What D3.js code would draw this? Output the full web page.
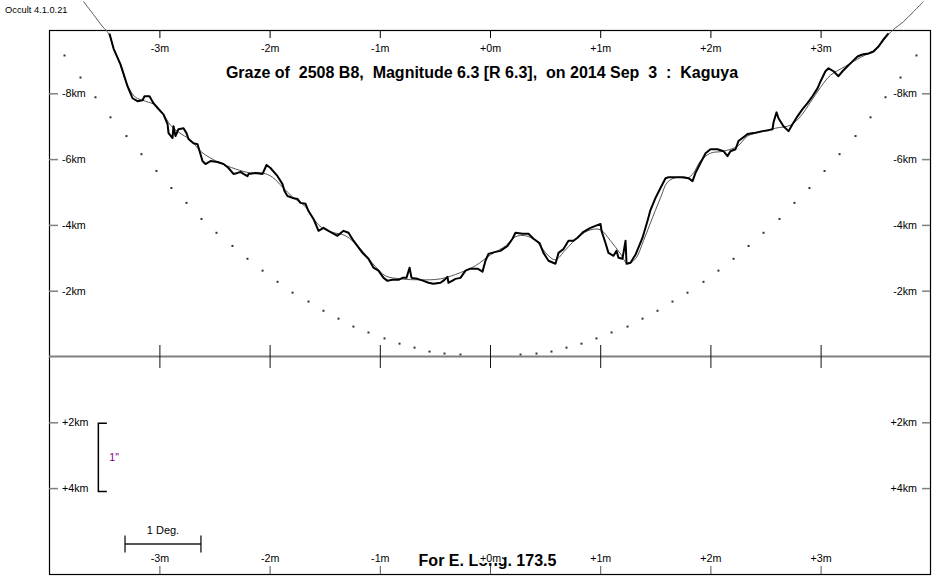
<!DOCTYPE html>
<html>
<head>
<meta charset="utf-8">
<script src="https://cdn.jsdelivr.net/npm/d3@7"></script>
<style>
    body { margin: 0; background: #fff; }
    svg text { font-family: "Liberation Sans", Arial, sans-serif; }
    .axis path.domain { display: none; }
</style>
</head>
<body>
<div id="chart"></div>
<script>
'use strict';

const titleText = "Graze of  2508 B8,  Magnitude 6.3 [R 6.3],  on 2014 Sep  3  :  Kaguya";
const versionText = "Occult 4.1.0.21";
const longitudeText = "For E. Long. 173.5";

// minutes of time along the graze, km across it
const minuteTicks = [-3, -2, -1, 0, 1, 2, 3];
const minuteLabels = ["-3m", "-2m", "-1m", "+0m", "+1m", "+2m", "+3m"];
const kmTicksTop = [-8, -6, -4, -2];
const kmLabelsTop = ["-8km", "-6km", "-4km", "-2km"];
const kmTicksBottom = [2, 4];
const kmLabelsBottom = ["+2km", "+4km"];

// Kaguya limb profile (heavy line)
const profileX = [-3.453, -3.416, -3.353, -3.289, -3.244, -3.199, -3.153, -3.135, -3.090, -3.054,
    -3.008, -2.963, -2.926, -2.917, -2.881, -2.872, -2.854, -2.827, -2.781, -2.754,
    -2.736, -2.691, -2.654, -2.627, -2.609, -2.582, -2.536, -2.473, -2.418, -2.373,
    -2.328, -2.291, -2.264, -2.237, -2.201, -2.191, -2.128, -2.064, -2.028, -1.992,
    -1.928, -1.883, -1.865, -1.838, -1.792, -1.747, -1.720, -1.674, -1.647, -1.602,
    -1.556, -1.511, -1.466, -1.384, -1.329, -1.284, -1.239, -1.157, -1.103, -1.057,
    -1.012, -0.966, -0.930, -0.885, -0.830, -0.794, -0.758, -0.730, -0.712, -0.658,
    -0.603, -0.558, -0.513, -0.449, -0.413, -0.386, -0.377, -0.313, -0.268, -0.222,
    -0.177, -0.113, -0.068, -0.041, -0.014, 0.050, 0.095, 0.159, 0.204, 0.231,
    0.295, 0.349, 0.395, 0.449, 0.485, 0.531, 0.594, 0.622, 0.667, 0.712,
    0.758, 0.794, 0.848, 0.912, 0.957, 1.003, 1.012, 1.048, 1.075, 1.121,
    1.148, 1.166, 1.202, 1.230, 1.239, 1.275, 1.320, 1.384, 1.429, 1.456,
    1.502, 1.547, 1.593, 1.620, 1.701, 1.756, 1.801, 1.838, 1.865, 1.910,
    1.956, 2.001, 2.064, 2.119, 2.155, 2.182, 2.228, 2.255, 2.291, 2.337,
    2.391, 2.473, 2.527, 2.564, 2.573, 2.600, 2.618, 2.663, 2.709, 2.745,
    2.790, 2.836, 2.881, 2.926, 2.972, 2.999, 3.044, 3.072, 3.117, 3.162,
    3.199, 3.244, 3.289, 3.335, 3.380, 3.435, 3.480, 3.525, 3.571, 3.616];
const profileY = [-9.82, -9.36, -8.88, -8.21, -7.85, -7.76, -7.79, -7.91, -7.91, -7.70,
    -7.52, -7.36, -7.06, -6.79, -6.64, -7.00, -6.70, -6.91, -6.94, -6.79,
    -6.61, -6.48, -6.45, -6.15, -5.94, -5.85, -5.94, -5.91, -5.85, -5.73,
    -5.55, -5.58, -5.61, -5.55, -5.48, -5.55, -5.58, -5.55, -5.82, -5.73,
    -5.48, -5.24, -5.03, -4.88, -4.82, -4.79, -4.67, -4.64, -4.42, -4.18,
    -3.82, -3.91, -3.82, -3.67, -3.82, -3.76, -3.52, -3.15, -2.97, -2.70,
    -2.61, -2.39, -2.30, -2.33, -2.33, -2.39, -2.39, -2.70, -2.39, -2.36,
    -2.30, -2.24, -2.21, -2.24, -2.33, -2.42, -2.24, -2.36, -2.39, -2.61,
    -2.67, -2.67, -2.58, -2.91, -3.12, -3.18, -3.21, -3.36, -3.58, -3.76,
    -3.73, -3.73, -3.58, -3.45, -3.15, -2.91, -2.82, -3.15, -3.27, -3.52,
    -3.52, -3.61, -3.79, -3.91, -3.97, -4.03, -3.82, -3.45, -3.15, -3.06,
    -3.21, -3.00, -2.97, -3.52, -2.82, -2.85, -3.09, -3.61, -4.12, -4.45,
    -4.82, -5.12, -5.42, -5.45, -5.45, -5.45, -5.42, -5.33, -5.58, -5.88,
    -6.18, -6.30, -6.30, -6.24, -6.09, -6.24, -6.30, -6.55, -6.64, -6.76,
    -6.79, -6.85, -6.88, -6.91, -7.12, -7.42, -7.24, -7.00, -6.85, -7.06,
    -7.30, -7.52, -7.70, -7.91, -8.15, -8.36, -8.67, -8.76, -8.67, -8.52,
    -8.67, -8.82, -8.97, -9.12, -9.18, -9.21, -9.27, -9.42, -9.64, -9.82];

// smoothed profile (thin line)
const smoothX = [-3.689, -3.598, -3.516, -3.462, -3.416, -3.353, -3.289, -3.217, -3.126, -3.035,
    -2.963, -2.899, -2.827, -2.718, -2.627, -2.536, -2.446, -2.309, -2.173, -2.064,
    -1.974, -1.883, -1.792, -1.674, -1.556, -1.447, -1.311, -1.175, -1.039, -0.948,
    -0.812, -0.631, -0.449, -0.268, -0.132, 0.005, 0.141, 0.231, 0.322, 0.413,
    0.531, 0.594, 0.685, 0.803, 0.912, 1.003, 1.093, 1.184, 1.248, 1.320,
    1.393, 1.456, 1.547, 1.611, 1.701, 1.792, 1.847, 1.910, 2.001, 2.119,
    2.246, 2.337, 2.455, 2.591, 2.727, 2.818, 2.908, 2.999, 3.090, 3.226,
    3.362, 3.498, 3.616, 3.662, 3.752, 3.843, 3.934];
const smoothY = [-10.79, -10.39, -10.03, -9.82, -9.36, -8.85, -8.24, -7.88, -7.76, -7.64,
    -7.36, -7.03, -6.82, -6.58, -6.24, -6.03, -5.88, -5.70, -5.58, -5.58,
    -5.45, -5.15, -4.85, -4.55, -4.00, -3.79, -3.67, -3.27, -2.73, -2.45,
    -2.36, -2.33, -2.36, -2.55, -2.76, -3.09, -3.36, -3.64, -3.67, -3.52,
    -3.06, -2.94, -3.24, -3.64, -3.85, -3.85, -3.52, -3.12, -2.82, -2.97,
    -3.52, -4.06, -4.82, -5.30, -5.45, -5.42, -5.58, -5.94, -6.18, -6.24,
    -6.39, -6.70, -6.82, -6.94, -7.03, -7.30, -7.73, -8.18, -8.55, -8.82,
    -9.09, -9.33, -9.79, -9.94, -10.18, -10.48, -10.79];

// dotted mean-limb curve
const limbDotX = [-3.861, -3.716, -3.580, -3.444, -3.299, -3.163, -3.027, -2.891, -2.754, -2.618,
    -2.482, -2.337, -2.201, -2.064, -1.928, -1.792, -1.647, -1.511, -1.375, -1.239,
    -1.103, -0.957, -0.821, -0.685, -0.549, -0.413, -0.268,
    0.277, 0.422, 0.558, 0.694, 0.830, 0.966, 1.103, 1.248, 1.384, 1.520,
    1.656, 1.792, 1.937, 2.073, 2.210, 2.346, 2.482, 2.627, 2.763, 2.899,
    3.036, 3.172, 3.317, 3.453, 3.589, 3.725, 3.870];
const limbDotY = [-9.15, -8.48, -7.88, -7.27, -6.70, -6.15, -5.64, -5.12, -4.67, -4.18,
    -3.76, -3.36, -2.97, -2.61, -2.27, -1.94, -1.67, -1.39, -1.15, -0.91,
    -0.73, -0.55, -0.39, -0.27, -0.15, -0.09, -0.06,
    -0.06, -0.09, -0.15, -0.27, -0.39, -0.55, -0.73, -0.91, -1.15, -1.39,
    -1.67, -1.94, -2.27, -2.61, -2.97, -3.36, -3.76, -4.18, -4.67, -5.12,
    -5.64, -6.15, -6.70, -7.27, -7.88, -8.48, -9.15];

// scale markers: 1 arc-second (km) and 1 degree of position angle (minutes)
const arcsecKm = [2.03, 4.10];
const arcsecAtMin = -3.554;
const degreeMin = [-3.312, -2.623];
const degreeAtKm = 5.70;

class GrazeProfile {
    constructor(divId, width, height, options) {
        options = this.handleOptions(options);
        this.options = options;
        this.width = width;
        this.height = height;

        this.svg = d3.select("#" + divId).append("svg")
            .attr("width", width)
            .attr("height", height);

        let f = options.frame;
        this.x = d3.scaleLinear().domain([-4, 4]).range([f.left + 0.2, f.right + 0.8]);
        this.y = d3.scaleLinear().domain([0, 4]).range([356.5, 488.1]);
    }

    handleOptions(options) {
        if (!options) {
            options = {};
        }
        if (!options.frame) {
            options.frame = { left: 49, right: 930, top: 30, bottom: 574 };
        }
        if (!options.tickFont) {
            options.tickFont = 10.7;
        }
        return options;
    }

    styleAxis(g, font) {
        g.attr("class", "axis")
            .attr("font-family", null)
            .attr("font-size", font)
            .style("color", "#000");
        return g;
    }

    renderFrame() {
        let f = this.options.frame;
        this.svg.append("rect")
            .attr("x", f.left + 0.5)
            .attr("y", f.top + 0.5)
            .attr("width", f.right - f.left)
            .attr("height", f.bottom - f.top)
            .attr("fill", "none")
            .attr("stroke", "#000")
            .attr("stroke-width", 1.2);
    }

    renderAxes() {
        let self = this;
        let f = self.options.frame;
        let font = self.options.tickFont;
        let minLabel = function (d) { return minuteLabels[minuteTicks.indexOf(d)]; };

        self.svg.append("g")
            .attr("transform", "translate(0," + f.top + ")")
            .call(d3.axisBottom(self.x).tickValues(minuteTicks).tickSize(8).tickPadding(6).tickFormat(minLabel))
            .call(g => self.styleAxis(g, font));

        let kmAll = kmTicksTop.concat(kmTicksBottom);
        let kmLab = kmLabelsTop.concat(kmLabelsBottom);
        let kmLabel = function (d) { return kmLab[kmAll.indexOf(d)]; };

        let left = self.svg.append("g")
            .attr("transform", "translate(" + f.left + ",0)")
            .call(d3.axisRight(self.y).tickValues(kmAll).tickSize(9).tickPadding(4).tickFormat(kmLabel))
            .call(g => self.styleAxis(g, font));
        left.selectAll(".tick line").attr("stroke", "#808080").attr("stroke-width", 1.5);

        let right = self.svg.append("g")
            .attr("transform", "translate(" + f.right + ",0)")
            .call(d3.axisLeft(self.y).tickValues(kmAll).tickSize(8).tickPadding(5).tickFormat(kmLabel))
            .call(g => self.styleAxis(g, font));
        right.selectAll(".tick line").attr("stroke", "#808080").attr("stroke-width", 1.5);

        // centre line with minute marks
        self.svg.append("line")
            .attr("x1", f.left).attr("x2", f.right)
            .attr("y1", self.y(0)).attr("y2", self.y(0))
            .attr("stroke", "#808080")
            .attr("stroke-width", 2);

        self.svg.append("g")
            .attr("transform", "translate(0," + (self.y(0) - 11.5) + ")")
            .call(d3.axisBottom(self.x).tickValues(minuteTicks).tickSize(23).tickFormat(""))
            .call(g => self.styleAxis(g, font))
            .selectAll(".tick line").attr("stroke", "#111");
    }

    renderBottomAxis() {
        let self = this;
        let f = self.options.frame;
        let font = self.options.tickFont;
        let minLabel = function (d) { return minuteLabels[minuteTicks.indexOf(d)]; };

        let bottom = self.svg.append("g")
            .attr("transform", "translate(0," + f.bottom + ")")
            .call(d3.axisTop(self.x).tickValues(minuteTicks).tickSize(8).tickPadding(4).tickFormat(minLabel))
            .call(g => self.styleAxis(g, font));
        bottom.selectAll(".tick line").attr("stroke", "#555");

        // labels sit on an opaque white cell, like the original
        bottom.selectAll(".tick").each(function () {
            let t = d3.select(this).select("text");
            let b = t.node().getBBox();
            d3.select(this).insert("rect", "text")
                .attr("x", b.x - 1).attr("y", -22)
                .attr("width", b.width + 2).attr("height", 11)
                .attr("fill", "#fff");
        });
    }

    renderLimbDots() {
        let self = this;
        self.svg.append("g").selectAll("rect")
            .data(limbDotX.map((d, i) => ({ x: d, y: limbDotY[i] })))
            .enter().append("rect")
            .attr("x", d => self.x(d.x) - 1)
            .attr("y", d => self.y(d.y) - 1)
            .attr("width", 2)
            .attr("height", 2)
            .attr("fill", "#333");
    }

    renderProfiles() {
        let self = this;
        let smooth = smoothX.map((d, i) => [d, smoothY[i]]);
        let profile = profileX.map((d, i) => [d, profileY[i]]);

        self.svg.append("path")
            .datum(smooth)
            .attr("d", d3.line().x(d => self.x(d[0])).y(d => self.y(d[1])).curve(d3.curveCatmullRom.alpha(0.5)))
            .attr("fill", "none")
            .attr("stroke", "#555")
            .attr("stroke-width", 1);

        self.svg.append("path")
            .datum(profile)
            .attr("d", d3.line().x(d => self.x(d[0])).y(d => self.y(d[1])))
            .attr("fill", "none")
            .attr("stroke", "#000")
            .attr("stroke-width", 2)
            .attr("stroke-linejoin", "round");
    }

    renderScales() {
        let self = this;
        let g = self.svg.append("g");
        let bx = self.x(arcsecAtMin);
        let y1 = self.y(arcsecKm[0]);
        let y2 = self.y(arcsecKm[1]);

        g.append("path")
            .attr("d", "M" + (bx + 8.5) + "," + y1 + "H" + bx + "V" + y2 + "H" + (bx + 8.5))
            .attr("fill", "none")
            .attr("stroke", "#000")
            .attr("stroke-width", 1.5);
        g.append("text")
            .attr("x", bx + 11)
            .attr("y", (y1 + y2) / 2 + 4)
            .attr("font-size", 10.7)
            .attr("fill", "#800080")
            .text('1"');

        let dx1 = self.x(degreeMin[0]);
        let dx2 = self.x(degreeMin[1]);
        let dy = self.y(degreeAtKm);
        g.append("line")
            .attr("x1", dx1).attr("x2", dx2)
            .attr("y1", dy).attr("y2", dy)
            .attr("stroke", "#555")
            .attr("stroke-width", 2);
        [dx1, dx2].forEach(function (x) {
            g.append("line")
                .attr("x1", x).attr("x2", x)
                .attr("y1", dy - 8.5).attr("y2", dy + 8.5)
                .attr("stroke", "#000")
                .attr("stroke-width", 1.2);
        });
        g.append("text")
            .attr("x", (dx1 + dx2) / 2)
            .attr("y", dy - 10)
            .attr("text-anchor", "middle")
            .attr("font-size", 11)
            .attr("fill", "#000")
            .text("1 Deg.");
    }

    renderTexts() {
        this.svg.append("text")
            .attr("x", 5)
            .attr("y", 12.5)
            .attr("font-size", 9.3)
            .attr("fill", "#000")
            .text(versionText);

        this.svg.append("text")
            .attr("x", 482)
            .attr("y", 77.5)
            .attr("text-anchor", "middle")
            .attr("font-size", 16)
            .attr("font-weight", "bold")
            .style("white-space", "pre")
            .text(titleText);

        this.svg.append("text")
            .attr("x", 487.5)
            .attr("y", 566)
            .attr("text-anchor", "middle")
            .attr("font-size", 16)
            .attr("font-weight", "bold")
            .text(longitudeText);
    }

    render() {
        this.renderFrame();
        this.renderLimbDots();
        this.renderAxes();
        this.renderProfiles();
        this.renderScales();
        this.renderTexts();
        this.renderBottomAxis();
    }
}

const chart = new GrazeProfile("chart", 950, 580);
chart.render();
</script>
</body>
</html>
